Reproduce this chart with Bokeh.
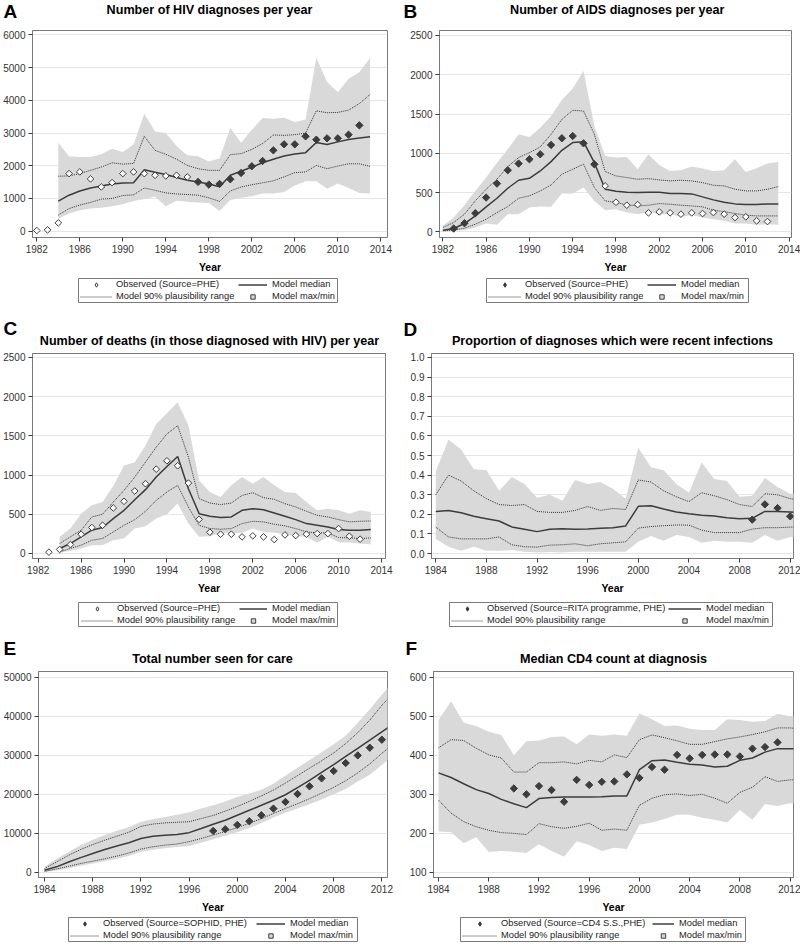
import math
from bokeh.plotting import figure
from bokeh.models import (Range1d, FixedTicker, Label, Legend, LegendItem, NumeralTickFormatter,
                          BoxAnnotation)
from bokeh.layouts import row, column
from bokeh.embed import file_html
from bokeh.resources import INLINE

# ---------------- data ----------------
yrs84 = list(range(1984, 2014))
yrs82 = list(range(1982, 2014))

# A: HIV diagnoses
A_obs_open_x = list(range(1982, 1997))
A_obs_open = [20, 40, 254, 1760, 1811, 1597, 1353, 1485, 1760, 1811, 1760, 1709, 1689, 1709, 1658]
A_obs_fill_x = list(range(1997, 2013))
A_obs_fill = [1506, 1424, 1445, 1587, 1780, 1984, 2146, 2472, 2655, 2655, 2899, 2797, 2838, 2838, 2950, 3235]
A_med = [916, 1100, 1230, 1320, 1380, 1440, 1475, 1480, 1880, 1800, 1730, 1640, 1560, 1500, 1440, 1360,
         1710, 1830, 1960, 2090, 2200, 2300, 2360, 2400, 2710, 2650, 2730, 2800, 2850, 2890]
A_up = [1680, 1690, 1760, 1860, 1960, 2090, 2050, 2070, 2900, 2470, 2350, 2200, 2010, 1910, 1860, 1860,
        2340, 2370, 2500, 2680, 2940, 2930, 2950, 3000, 3680, 3620, 3630, 3700, 3900, 4180]
A_lo = [490, 690, 800, 880, 980, 1000, 1090, 1110, 1320, 1250, 1170, 1140, 1120, 1100, 1020, 910,
        1230, 1350, 1420, 1480, 1540, 1660, 1790, 1810, 2010, 1910, 1990, 2060, 2060, 1980]
A_max = [2700, 2290, 2270, 2270, 2350, 2520, 2420, 2650, 3590, 3050, 3000, 2600, 2320, 2290, 2130, 2220,
         3160, 2700, 3100, 3460, 3440, 3470, 3340, 3410, 5300, 4560, 4250, 4660, 4860, 5290]
A_min = [380, 540, 640, 690, 720, 760, 820, 920, 980, 1050, 760, 930, 900, 880, 860, 620,
         950, 1020, 1070, 1150, 1150, 1200, 1400, 1530, 1530, 1300, 1460, 1320, 1170, 1150]

# B: AIDS diagnoses
B_obs_fill_x = list(range(1983, 1997))
B_obs_fill = [42, 110, 237, 436, 614, 784, 869, 924, 987, 1106, 1191, 1220, 1127, 860]
B_obs_open_x = list(range(1997, 2013))
B_obs_open = [585, 377, 339, 347, 242, 254, 242, 225, 242, 233, 246, 225, 182, 191, 140, 131]
B_med = [21, 42, 106, 203, 318, 428, 555, 657, 682, 775, 894, 1038, 1136, 1148, 880, 542,
         517, 504, 500, 504, 504, 487, 487, 483, 445, 407, 377, 356, 347, 347, 356, 356]
B_up = [55, 119, 225, 394, 542, 669, 831, 945, 1008, 1080, 1242, 1432, 1547, 1538, 1242, 767,
        712, 691, 669, 678, 661, 648, 657, 648, 627, 593, 585, 542, 521, 521, 542, 576]
B_lo = [13, 21, 47, 97, 161, 246, 322, 428, 458, 521, 597, 733, 797, 860, 564, 394,
        373, 343, 330, 339, 360, 352, 339, 330, 318, 275, 258, 233, 212, 203, 203, 203]
B_max = [76, 182, 343, 521, 691, 881, 1051, 1242, 1208, 1326, 1475, 1678, 1826, 2047, 1347, 966,
         945, 953, 797, 987, 852, 775, 784, 831, 805, 775, 784, 924, 763, 809, 869, 890]
B_min = [4, 13, 21, 55, 106, 89, 225, 225, 309, 322, 318, 487, 487, 564, 394, 275,
         288, 246, 225, 254, 225, 225, 191, 212, 182, 161, 140, 106, 106, 89, 97, 89]

# C: deaths
C_obs_x = list(range(1983, 2013))
C_obs = [17, 51, 114, 246, 331, 360, 581, 665, 797, 890, 1076, 1182, 1119, 898, 436, 271, 246, 246,
         212, 225, 212, 178, 237, 229, 246, 254, 254, 318, 220, 182]
C_med = [64, 127, 212, 297, 331, 445, 551, 686, 814, 975, 1110, 1237, 826, 508, 475, 458, 466, 551,
         572, 559, 517, 475, 432, 381, 360, 339, 305, 297, 297, 305]
C_up = [127, 212, 297, 466, 500, 657, 805, 975, 1165, 1356, 1525, 1631, 1229, 699, 644, 623, 644, 741,
        775, 712, 691, 636, 593, 538, 487, 466, 432, 403, 411, 415]
C_lo = [21, 64, 106, 169, 191, 275, 360, 432, 538, 678, 784, 869, 593, 360, 318, 309, 318, 381,
        411, 403, 373, 352, 318, 275, 263, 263, 203, 199, 191, 199]
C_max = [212, 318, 508, 614, 657, 860, 1123, 1165, 1377, 1653, 1788, 1928, 1631, 932, 784, 720, 869, 975,
         890, 975, 869, 784, 771, 657, 551, 572, 551, 508, 551, 530]
C_min = [8, 34, 64, 106, 106, 169, 191, 318, 347, 445, 500, 636, 381, 212, 220, 263, 254, 263,
         318, 275, 263, 246, 220, 212, 136, 212, 148, 140, 127, 114]

# D: proportion recent infections
D_obs_x = [2009, 2010, 2011, 2012]
D_obs = [0.173, 0.251, 0.232, 0.19]
D_med = [0.214, 0.22, 0.208, 0.19, 0.178, 0.166, 0.136, 0.124, 0.112, 0.124, 0.127, 0.124, 0.125, 0.129,
         0.132, 0.141, 0.241, 0.244, 0.227, 0.212, 0.203, 0.195, 0.192, 0.183, 0.178, 0.18, 0.215, 0.215,
         0.212, 0.208]
D_up = [0.30, 0.40, 0.37, 0.32, 0.28, 0.25, 0.245, 0.25, 0.215, 0.21, 0.21, 0.22, 0.24, 0.22, 0.23, 0.225,
        0.375, 0.365, 0.32, 0.29, 0.265, 0.31, 0.295, 0.275, 0.25, 0.24, 0.305, 0.30, 0.28, 0.27]
D_lo = [0.135, 0.085, 0.075, 0.075, 0.075, 0.085, 0.045, 0.035, 0.033, 0.043, 0.045, 0.05, 0.04, 0.05,
        0.055, 0.06, 0.13, 0.138, 0.142, 0.146, 0.145, 0.12, 0.107, 0.107, 0.107, 0.125, 0.132, 0.132,
        0.135, 0.138]
D_max = [0.42, 0.58, 0.53, 0.43, 0.425, 0.32, 0.39, 0.355, 0.285, 0.30, 0.27, 0.375, 0.355, 0.365, 0.33,
         0.28, 0.54, 0.44, 0.425, 0.355, 0.31, 0.465, 0.38, 0.37, 0.29, 0.295, 0.385, 0.34, 0.305, 0.305]
D_min = [0.075, 0.035, 0.015, 0.035, 0.015, 0.015, 0.018, 0.01, 0.005, 0.008, 0.005, 0.01, 0.01, 0.01,
         0.01, 0.01, 0.06, 0.09, 0.065, 0.095, 0.085, 0.055, 0.065, 0.06, 0.06, 0.055, 0.095, 0.065,
         0.085, 0.08]

# E: total number seen for care
E_obs_x = list(range(1998, 2013))
E_obs = [10650, 11070, 12180, 13120, 14650, 16350, 18060, 20100, 22060, 24100, 25980, 28020, 29980,
         31940, 33990]
E_med = [600, 1450, 2700, 3800, 4850, 5900, 6800, 7600, 8700, 9300, 9550, 9700, 10200, 11250, 12350,
         13370, 14650, 15930, 17200, 18500, 19900, 21700, 23600, 25600, 27600, 29700, 31800, 33900,
         36000, 38100]
E_up = [1000, 2700, 4400, 5900, 7150, 8260, 9280, 10300, 11800, 12400, 12700, 12850, 13000, 13800,
        14600, 15700, 16900, 18200, 19600, 21100, 22900, 24800, 26700, 28600, 30600, 33000, 35800,
        39000, 42800, 46000]
E_lo = [300, 900, 1600, 2300, 2900, 3500, 4200, 5000, 6000, 6600, 7000, 7300, 7900, 8700, 9600, 10500,
        11500, 12600, 13800, 15100, 16400, 17600, 18900, 20300, 21800, 23500, 25500, 27800, 30500, 33000]
E_max = [1500, 3500, 5300, 7000, 8400, 9600, 10700, 11600, 13000, 13600, 14200, 14800, 15400, 16400,
         17200, 18200, 19300, 20200, 21200, 22700, 24800, 26800, 28800, 30800, 32800, 35000, 38300,
         41800, 45500, 49000]
E_min = [100, 500, 1100, 1700, 2300, 2900, 3500, 4200, 5300, 5800, 6200, 6500, 6800, 7600, 8500, 9400,
         10300, 11400, 12700, 14100, 15300, 16400, 17500, 18700, 20000, 21400, 23300, 25000, 27500, 30000]

# F: median CD4 count
F_obs_x = list(range(1990, 2012))
F_obs = [315, 300, 321, 311, 281, 337, 324, 332, 333, 351, 342, 370, 363, 401, 392, 401, 402, 402, 397,
         417, 421, 433]
F_med = [355, 343, 327, 312, 302, 287, 276, 266, 289, 292, 293, 293, 293, 294, 296, 296, 363, 386, 388,
         382, 377, 375, 370, 372, 387, 393, 408, 417, 417, 417]
F_up = [419, 440, 438, 418, 401, 393, 357, 357, 381, 381, 383, 378, 387, 383, 401, 394, 440, 452, 445,
        437, 428, 428, 435, 442, 447, 453, 460, 470, 470, 467]
F_lo = [285, 252, 230, 217, 208, 202, 200, 197, 225, 217, 213, 218, 226, 208, 211, 208, 272, 290, 299,
        301, 297, 300, 290, 277, 305, 318, 345, 333, 337, 337]
F_max = [490, 538, 483, 475, 460, 452, 400, 436, 438, 447, 448, 428, 453, 450, 453, 450, 507, 492, 475,
         476, 468, 465, 465, 492, 490, 486, 488, 506, 500, 497]
F_min = [205, 203, 175, 190, 152, 155, 153, 150, 172, 155, 140, 180, 170, 155, 163, 160, 222, 228, 237,
         248, 248, 240, 235, 228, 260, 235, 275, 270, 277, 275]

# tick labels
X_TICKS_82 = [1982, 1986, 1990, 1994, 1998, 2002, 2006, 2010, 2014]
X_TICKS_84 = [1984, 1988, 1992, 1996, 2000, 2004, 2008, 2012]
A_YTICKS = [0, 1000, 2000, 3000, 4000, 5000, 6000]
B_YTICKS = [0, 500, 1000, 1500, 2000, 2500]
D_YTICKS = [0.0, 0.1, 0.2, 0.3, 0.4, 0.5, 0.6, 0.7, 0.8, 0.9, 1.0]
E_YTICKS = [0, 10000, 20000, 30000, 40000, 50000]
F_YTICKS = [100, 200, 300, 400, 500, 600]

# ---------------- style ----------------
FONT = "Liberation Sans"
BAND = "#d9d9d9"
DARK = "#3c3c3c"
DOTC = "#333333"
FRAME = "#7a7a7a"
DOT = "1 1"
ROT = math.pi / 4


def obs_marker(p, xs, ys, filled):
    return p.scatter(xs, ys, marker="square", angle=ROT, size=5.2 if filled else 4.7,
                     fill_color=DARK if filled else "white", line_color=DARK, line_width=1)


def make_panel(cfg):
    W, H = cfg["size"]
    L, R, T, B = cfg["borders"]
    p = figure(width=W, height=H, output_backend="svg", toolbar_location=None,
               x_range=Range1d(*cfg["xr"]), y_range=Range1d(*cfg["yr"]),
               min_border_left=L, min_border_right=R, min_border_top=T, min_border_bottom=B)
    p.background_fill_color = "white"
    p.border_fill_color = "white"
    p.outline_line_color = FRAME
    p.outline_line_width = 1
    p.xgrid.visible = False
    p.ygrid.grid_line_color = "#e6e6e6"
    p.ygrid.grid_line_width = 1

    p.xaxis.ticker = FixedTicker(ticks=cfg["xticks"])
    p.yaxis.ticker = FixedTicker(ticks=cfg["yticks"])
    if cfg.get("yfmt"):
        p.yaxis.formatter = NumeralTickFormatter(format=cfg["yfmt"])
    for ax in (p.xaxis[0], p.yaxis[0]):
        ax.axis_line_color = FRAME
        ax.major_tick_line_color = DARK
        ax.major_tick_out = 4
        ax.major_tick_in = 0
        ax.minor_tick_out = 0
        ax.minor_tick_in = 0
        ax.major_label_text_font = FONT
        ax.major_label_text_font_size = "10px"
        ax.major_label_text_color = "#333333"
        ax.major_label_standoff = 3
    p.xaxis.axis_label = "Year"
    p.xaxis.axis_label_text_font = FONT
    p.xaxis.axis_label_text_font_size = "10.5px"
    p.xaxis.axis_label_text_font_style = "bold"
    p.xaxis.axis_label_text_color = "#000000"
    p.xaxis.axis_label_standoff = 5

    x = cfg["x"]
    p.varea(x=x, y1=cfg["min"], y2=cfg["max"], fill_color=BAND, fill_alpha=1.0)
    p.line(x, cfg["up"], line_color=DOTC, line_width=1, line_dash=DOT)
    p.line(x, cfg["lo"], line_color=DOTC, line_width=1, line_dash=DOT)
    p.line(x, cfg["med"], line_color=DARK, line_width=1.5)
    for ox, oy, filled in cfg["obs"]:
        obs_marker(p, ox, oy, filled)
    return p


LETTER_SIZE = 19.0
TITLE_SIZE = 12.6
CENTER_TO_BASELINE = 0.3465   # Label text is centred on y; baseline lies this many em below


def header(width, height, items):
    p = figure(width=width, height=height, output_backend="svg", toolbar_location=None,
               x_range=Range1d(0, width), y_range=Range1d(height, 0),
               min_border=0, x_axis_location=None, y_axis_location=None)
    p.outline_line_color = None
    p.grid.visible = False
    p.background_fill_color = "white"
    p.border_fill_color = "white"
    for (xx, baseline, text, is_letter, align) in items:
        size = LETTER_SIZE if is_letter else TITLE_SIZE
        p.add_layout(Label(x=xx, y=baseline - CENTER_TO_BASELINE * size, text=text, text_font=FONT,
                           text_font_style="bold", text_font_size=f"{size}px", text_align=align,
                           text_baseline="alphabetic", text_color="#000000"))
    return p


ROW_H = 11


def legend_strip(width, height, specs):
    p = figure(width=width, height=height, output_backend="svg", toolbar_location=None,
               x_range=Range1d(0, width), y_range=Range1d(0, height),
               min_border=0, x_axis_location=None, y_axis_location=None)
    p.outline_line_color = None
    p.grid.visible = False
    p.background_fill_color = "white"
    p.border_fill_color = "white"
    off = [-1000]
    open_r = p.scatter(off, off, marker="diamond", size=8, fill_color="white", line_color=DARK, line_width=1)
    fill_r = p.scatter(off, off, marker="diamond", size=8, fill_color=DARK, line_color=DARK, line_width=1)
    med_r = p.line(off, off, line_color=DARK, line_width=1.5)
    dot_r = p.line(off, off, line_color=DOTC, line_width=1, line_dash=DOT)
    sq_r = p.scatter(off, off, marker="square", size=7, fill_color=BAND, line_color=DARK, line_width=1)
    for (bl, br, bt, bb, c1g, c1t, c2g, c2t, label, filled) in specs:
        p.add_layout(BoxAnnotation(left=bl, right=br, top=height - bt, bottom=height - bb,
                                   fill_color="white", fill_alpha=1.0,
                                   line_color=FRAME, line_width=1, line_alpha=1.0))
        lh = 2 * ROW_H + 1
        ybot = height - (bt + (bb - bt - lh) / 2.0) - lh
        cols = [
            (c1g, c1t, 4, [LegendItem(label=label, renderers=[fill_r if filled else open_r]),
                           LegendItem(label="Model 90% plausibility range", renderers=[dot_r])]),
            (c2g, c2t, 5, [LegendItem(label="Model median", renderers=[med_r]),
                           LegendItem(label="Model max/min", renderers=[sq_r])]),
        ]
        for gx, tx, so, items in cols:
            lg = Legend(items=items, orientation="vertical", location=(gx, ybot))
            lg.label_text_font = FONT
            lg.label_text_font_size = "9.3px"
            lg.label_text_color = "#222222"
            lg.glyph_width = tx - so - gx
            lg.glyph_height = ROW_H
            lg.label_height = ROW_H
            lg.label_standoff = so
            lg.spacing = 1
            lg.padding = 0
            lg.margin = 0
            lg.border_line_color = None
            lg.background_fill_alpha = 0.0
            p.add_layout(lg)
    return p


pA = make_panel(dict(size=(400, 251), borders=(32, 13, 5, 39), xr=(1981.6, 2014.62), yr=(-193, 6134),
                     xticks=X_TICKS_82, yticks=A_YTICKS, x=yrs84, med=A_med, up=A_up, lo=A_lo,
                     max=A_max, min=A_min,
                     obs=[(A_obs_open_x, A_obs_open, False), (A_obs_fill_x, A_obs_fill, True)]))
pB = make_panel(dict(size=(400, 251), borders=(39, 9, 5, 39), xr=(1981.69, 2014.22), yr=(-72, 2563),
                     xticks=X_TICKS_82, yticks=B_YTICKS, x=yrs82, med=B_med, up=B_up, lo=B_lo,
                     max=B_max, min=B_min,
                     obs=[(B_obs_fill_x, B_obs_fill, True), (B_obs_open_x, B_obs_open, False)]))
pC = make_panel(dict(size=(400, 249), borders=(31, 15, 5, 39), xr=(1981.47, 2014.37), yr=(-64, 2551),
                     xticks=X_TICKS_82, yticks=B_YTICKS, x=yrs84, med=C_med, up=C_up, lo=C_lo,
                     max=C_max, min=C_min, obs=[(C_obs_x, C_obs, False)]))
pD = make_panel(dict(size=(400, 249), borders=(31, 7, 5, 39), xr=(1983.66, 2012.26), yr=(-0.025, 1.02),
                     xticks=X_TICKS_84, yticks=D_YTICKS, yfmt="0.0", x=yrs84, med=D_med, up=D_up, lo=D_lo,
                     max=D_max, min=D_min, obs=[(D_obs_x, D_obs, True)]))
pE = make_panel(dict(size=(400, 250), borders=(37, 13, 5, 39), xr=(1983.5, 2012.47), yr=(-1280, 51450),
                     xticks=X_TICKS_84, yticks=E_YTICKS, x=yrs84, med=E_med, up=E_up, lo=E_lo,
                     max=E_max, min=E_min, obs=[(E_obs_x, E_obs, True)]))
pF = make_panel(dict(size=(400, 250), borders=(33, 7, 5, 39), xr=(1983.6, 2012.27), yr=(87, 614.5),
                     xticks=X_TICKS_84, yticks=F_YTICKS, x=yrs84, med=F_med, up=F_up, lo=F_lo,
                     max=F_max, min=F_min, obs=[(F_obs_x, F_obs, True)]))

h1 = header(800, 25, [(3, 18, "A", True, "left"),
                      (209, 14, "Number of HIV diagnoses per year", False, "center"),
                      (403, 18, "B", True, "left"),
                      (617, 14, "Number of AIDS diagnoses per year", False, "center")])
l1 = legend_strip(800, 36, [(78, 337, 2, 26, 80, 116, 238, 272, "Observed (Source=PHE)", False),
                            (486, 748, 2, 26, 488, 525, 647, 681, "Observed (Source=PHE)", True)])
h2 = header(800, 36, [(3, 23, "C", True, "left"),
                      (209, 32.5, "Number of deaths (in those diagnosed with HIV) per year", False, "center"),
                      (403, 23.5, "D", True, "left"),
                      (612, 32.5, "Proportion of diagnoses which were recent infections", False, "center")])
l2 = legend_strip(800, 35, [(78, 337, 5, 29, 81, 117, 239, 272, "Observed (Source=PHE)", False),
                            (449, 772, 5, 29, 451, 487, 668, 706,
                             "Observed (Source=RITA programme, PHE)", True)])
h3 = header(800, 34, [(3, 23, "E", True, "left"),
                      (212, 31, "Total number seen for care", False, "center"),
                      (405, 23, "F", True, "left"),
                      (613, 31, "Median CD4 count at diagnosis", False, "center")])
l3 = legend_strip(800, 27, [(68, 357, 1, 25, 70, 103, 256, 290, "Observed (Source=SOPHID, PHE)", True),
                            (460, 745, 1, 25, 462, 501, 652, 679, "Observed (Source=CD4 S.S.,PHE)", True)])

layout = column(h1, row(pA, pB), l1, h2, row(pC, pD), l2, h3, row(pE, pF), l3)
open("out.html", "w").write(file_html(layout, INLINE))
